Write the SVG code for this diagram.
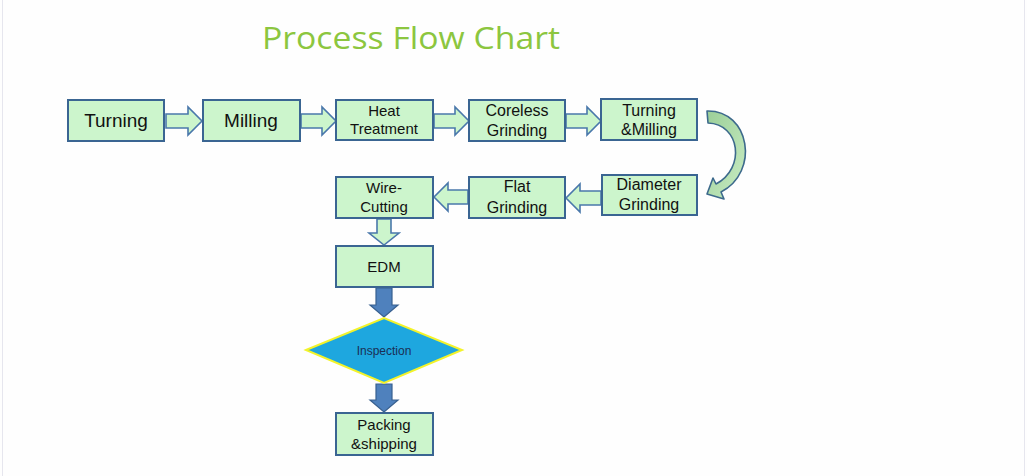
<svg xmlns="http://www.w3.org/2000/svg" width="1027" height="476" viewBox="0 0 1027 476">
<defs>
<style>
.box{fill:#ccf5cc;stroke:#3a6592;stroke-width:2}
.t{font-family:"Liberation Sans",Arial,sans-serif;fill:#111;text-anchor:middle}
.ha{fill:#ccf5cc;stroke:#4a78ab;stroke-width:1.6;stroke-linejoin:miter}
.sa{fill:#4f81bd;stroke:#38608f;stroke-width:1.2}
</style>
<linearGradient id="cg" x1="0" y1="0" x2="1" y2="1">
<stop offset="0" stop-color="#9ccf98"/>
<stop offset="1" stop-color="#c8ecc3"/>
</linearGradient>
</defs>
<rect x="0" y="0" width="1027" height="476" fill="#fefefe"/>
<line x1="2.5" y1="0" x2="2.5" y2="476" stroke="#e6e6ee" stroke-width="1"/>
<line x1="1024.5" y1="0" x2="1024.5" y2="476" stroke="#e6e6ee" stroke-width="1"/>
<text x="411" y="49" font-family="'Open Sans','Noto Sans',sans-serif" font-size="31" fill="#8cc63f" text-anchor="middle" textLength="298" lengthAdjust="spacingAndGlyphs">Process Flow Chart</text>

<g id="connectors">
<polygon class="ha" points="166,114 188,114 188,107 202,121 188,135 188,128 166,128"/>
<polygon class="ha" points="301,114 322,114 322,107 336,121 322,135 322,128 301,128"/>
<polygon class="ha" points="434,114 455,114 455,107 469,121 455,135 455,128 434,128"/>
<polygon class="ha" points="566,114 587,114 587,107 601,121 587,135 587,128 566,128"/>
<polygon class="ha" points="601,191 580,191 580,184 566,198 580,212 580,205 601,205"/>
<polygon class="ha" points="468,190 448,190 448,183 434,197 448,211 448,204 468,204"/>
<polygon class="ha" points="377,219 391,219 391,233 399,233 384,245 369,233 377,233"/>
<path d="M707 111 C750 110 760 172 721 192 L724 199 L707 194 L713 178 L716 184 C746 168 740 124 708 123 Z" fill="url(#cg)" stroke="#3d6a8c" stroke-width="1.6" stroke-linejoin="round"/>
<polygon class="sa" points="376,288 392,288 392,305 398,305 384,317 370,305 376,305"/>
<polygon class="sa" points="376,384 392,384 392,400 398,400 384,412 370,400 376,400"/>
</g>

<g id="n-turning"><rect class="box" x="68" y="100" width="96" height="41"/><text class="t" x="116" y="127" font-size="19">Turning</text></g>
<g id="n-milling"><rect class="box" x="203" y="100" width="97" height="41"/><text class="t" x="251" y="127" font-size="19">Milling</text></g>
<g id="n-heat"><rect class="box" x="336" y="100" width="97" height="40"/><text class="t" x="384" y="116" font-size="15">Heat</text><text class="t" x="384" y="134" font-size="15">Treatment</text></g>
<g id="n-coreless"><rect class="box" x="469" y="100" width="96" height="41"/><text class="t" x="517" y="116" font-size="16">Coreless</text><text class="t" x="517" y="136" font-size="16">Grinding</text></g>
<g id="n-turnmill"><rect class="box" x="601" y="99" width="96" height="41"/><text class="t" x="649" y="116" font-size="16">Turning</text><text class="t" x="649" y="135" font-size="16">&amp;Milling</text></g>
<g id="n-diameter"><rect class="box" x="602" y="175" width="95" height="40"/><text class="t" x="649" y="190" font-size="16">Diameter</text><text class="t" x="649" y="210" font-size="16">Grinding</text></g>
<g id="n-flat"><rect class="box" x="469" y="177" width="96" height="41"/><text class="t" x="517" y="192" font-size="16">Flat</text><text class="t" x="517" y="213" font-size="16">Grinding</text></g>
<g id="n-wire"><rect class="box" x="336" y="177" width="97" height="41"/><text class="t" x="384" y="193" font-size="15">Wire-</text><text class="t" x="384" y="212" font-size="15">Cutting</text></g>
<g id="n-edm"><rect class="box" x="336" y="246" width="97" height="41"/><text class="t" x="384" y="272" font-size="15">EDM</text></g>
<g id="n-inspection"><polygon points="306,350 384,318 462,350 384,383" fill="#1ea7df" stroke="#f3f32a" stroke-width="2"/><text class="t" x="384" y="355" font-size="12" style="fill:#1b2f55">Inspection</text></g>
<g id="n-packing"><rect class="box" x="336" y="413" width="97" height="42"/><text class="t" x="384" y="430" font-size="15">Packing</text><text class="t" x="384" y="449" font-size="15">&amp;shipping</text></g>
</svg>
